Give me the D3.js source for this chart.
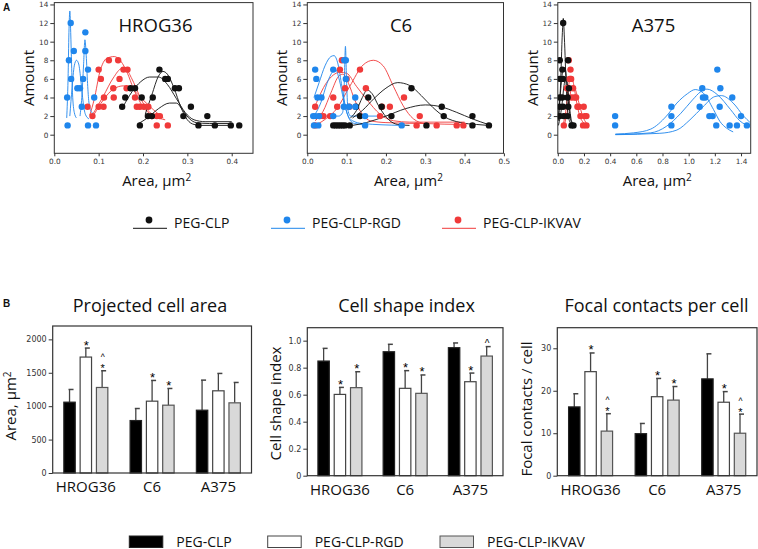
<!DOCTYPE html>
<html><head><meta charset="utf-8">
<script src="https://cdn.jsdelivr.net/npm/d3@7"></script>
<style>
body{margin:0;background:#fff;}
text{font-family:"Open Sans",sans-serif;fill:#111;}
.tick text{font-family:"DejaVu Sans",sans-serif;fill:#333;}
</style></head>
<body><svg id="c" width="758" height="549"></svg>
<script>
// ---------- DATA: panel A (size distributions) ----------
const hrogBlack = [[0.153,3],[0.160,4],[0.172,5],[0.182,5],[0.193,1],[0.197,4],[0.211,2],[0.220,2],[0.222,4],[0.237,7],[0.250,6],[0.256,6],[0.272,5],[0.281,5],[0.291,2],[0.308,3],[0.325,1],[0.345,2],[0.362,1],[0.398,1],[0.417,1]];
const hrogBlue = [[0.030,1],[0.029,4],[0.033,8],[0.037,12],[0.038,6],[0.044,9],[0.052,5],[0.058,5],[0.065,6],[0.062,3],[0.070,11],[0.070,9],[0.076,7],[0.076,1],[0.090,4],[0.094,1]];
const hrogRed = [[0.075,3],[0.086,2],[0.100,7],[0.105,6],[0.100,3],[0.111,3],[0.112,4],[0.123,8],[0.133,5],[0.134,4],[0.144,8],[0.147,6],[0.156,7],[0.165,7],[0.163,5],[0.182,4],[0.186,3],[0.193,3],[0.202,3],[0.212,3],[0.220,2],[0.231,2],[0.231,1],[0.238,2],[0.256,1]];
const hrogBlackFits = [
  [[0.205,2.2],[0.22,4.3],[0.235,6.3],[0.245,6.8],[0.255,6.5],[0.27,5],[0.285,3],[0.30,1.6],[0.315,1.1],[0.33,1.0],[0.40,1.0]],
  [[0.155,3.0],[0.175,4.6],[0.195,5.7],[0.215,6.2],[0.235,6.2],[0.255,5.4],[0.275,3.9],[0.295,2.4],[0.315,1.6],[0.34,1.4],[0.40,1.4]],
  [[0.19,1.2],[0.21,1.8],[0.235,2.8],[0.26,3.4],[0.275,3.4],[0.29,2.6],[0.305,1.7],[0.32,1.3],[0.35,1.2],[0.40,1.2]]
];
const hrogBlueFits = [
  [[0.028,1.8],[0.031,6],[0.033,11],[0.035,13.3],[0.037,11],[0.039,7.5],[0.041,4.5],[0.045,2.4],[0.050,1.8]],
  [[0.035,2],[0.040,5],[0.045,7.4],[0.050,8.0],[0.055,7.6],[0.060,5.8],[0.065,3.5],[0.070,2.2],[0.078,1.7]],
  [[0.058,2],[0.062,4],[0.066,7.5],[0.069,10.2],[0.072,8.5],[0.075,5.5],[0.078,3.5],[0.083,2.5],[0.090,2.2]]
];
const hrogRedFits = [
  [[0.080,2.1],[0.09,3.8],[0.103,6.8],[0.118,8.2],[0.135,8.4],[0.15,7.9],[0.165,6.6],[0.178,5.0],[0.19,3.8],[0.205,2.7],[0.225,2.0],[0.25,1.6]],
  [[0.088,2.3],[0.11,4.1],[0.133,6.1],[0.152,7.1],[0.162,7.0],[0.175,6.0],[0.19,4.4],[0.205,3.0],[0.22,2.2],[0.24,1.8]],
  [[0.09,2.2],[0.11,3.7],[0.133,4.9],[0.156,5.25],[0.178,4.8],[0.20,3.75],[0.223,2.7],[0.246,1.8]]
];

const c6Black = [[0.066,1],[0.072,1],[0.078,1],[0.084,1],[0.090,1],[0.096,1],[0.108,1],[0.124,3],[0.134,2],[0.155,4],[0.189,3],[0.214,2],[0.265,5],[0.303,1],[0.342,3],[0.347,2],[0.420,2],[0.420,1],[0.462,1]];
const c6Blue = [[0.015,2],[0.017,1],[0.020,7],[0.023,6],[0.021,2],[0.026,4],[0.030,2],[0.036,4],[0.028,1],[0.066,7],[0.066,2],[0.094,8],[0.098,6],[0.093,3],[0.106,3],[0.122,4],[0.122,3],[0.147,2],[0.147,1],[0.240,1],[0.098,8]];
const c6Red = [[0.020,3],[0.032,2],[0.041,2],[0.058,2],[0.066,4],[0.076,3],[0.083,7],[0.088,8],[0.096,5],[0.100,6],[0.107,3],[0.134,7],[0.149,5],[0.185,2],[0.190,3],[0.210,3],[0.246,4],[0.286,2],[0.278,1],[0.329,1],[0.380,1],[0.397,1],[0.020,1]];
const c6BlackFits = [
  [[0.11,1.8],[0.125,2.6],[0.14,4.0],[0.152,4.8],[0.165,4.4],[0.18,3.2],[0.195,2.2],[0.21,1.5],[0.23,1.1],[0.26,1.0]],
  [[0.115,1.8],[0.14,2.6],[0.17,3.9],[0.20,5.0],[0.23,5.6],[0.26,5.3],[0.29,4.2],[0.32,2.9],[0.35,1.9],[0.39,1.3],[0.43,1.1],[0.46,1.0]],
  [[0.115,1.0],[0.15,1.3],[0.20,2.0],[0.25,2.8],[0.30,3.2],[0.34,3.0],[0.38,2.4],[0.42,1.7],[0.46,1.1]]
];
const c6BlueFits = [
  [[0.017,4.0],[0.03,5.6],[0.045,7.4],[0.06,8.4],[0.068,8.5],[0.078,7.6],[0.088,5.2],[0.098,2.8],[0.108,1.6],[0.12,1.2],[0.14,1.1]],
  [[0.017,2.0],[0.035,3.5],[0.05,5.5],[0.065,6.8],[0.072,7.0],[0.082,5.8],[0.092,3.8],[0.102,2.2],[0.115,1.5],[0.14,1.2],[0.24,1.0]],
  [[0.02,2.0],[0.08,2.0],[0.09,2.4],[0.094,5.5],[0.097,9.5],[0.100,5.5],[0.104,2.5],[0.11,2.0],[0.19,2.0]]
];
const c6RedFits = [
  [[0.02,1.0],[0.05,1.8],[0.075,2.8],[0.108,5.2],[0.142,7.5],[0.168,8.0],[0.193,7.4],[0.219,5.2],[0.244,3.1],[0.27,1.7],[0.30,1.2],[0.40,1.1]],
  [[0.02,3.1],[0.049,5.6],[0.083,6.7],[0.10,6.6],[0.125,5.2],[0.151,3.8],[0.185,2.2],[0.219,1.5],[0.26,1.35],[0.40,1.35]],
  [[0.02,1.5],[0.04,2.5],[0.06,4.5],[0.08,6.3],[0.09,6.5],[0.105,5.5],[0.12,3.8],[0.14,2.2],[0.16,1.5],[0.2,1.3],[0.30,1.2]]
];

const a375Black = [[0.015,8],[0.015,6],[0.015,4],[0.015,3],[0.015,2],[0.041,12],[0.035,7],[0.040,6],[0.035,4],[0.040,3],[0.045,2],[0.078,8],[0.085,5],[0.075,4],[0.080,3],[0.075,2],[0.105,1],[0.120,1]];
const a375Red = [[0.084,8],[0.097,7],[0.102,6],[0.117,5],[0.127,4],[0.160,3],[0.198,3],[0.219,2],[0.219,1],[0.193,1],[0.173,2],[0.046,1],[0.060,2],[0.090,6],[0.105,4],[0.140,4],[0.150,3],[0.205,2],[0.070,5]];
const a375Blue = [[0.438,2],[0.438,1],[0.868,3],[0.868,2],[0.868,1],[1.084,3],[1.104,5],[1.109,4],[1.127,4],[1.158,2],[1.183,2],[1.211,1],[1.219,7],[1.242,5],[1.237,3],[1.313,1],[1.333,4],[1.369,1],[1.400,2],[1.445,1]];
const a375BlackFits = [
  [[0.005,1.5],[0.02,5],[0.035,11],[0.042,12.5],[0.05,10.5],[0.065,5],[0.08,2],[0.10,1.2],[0.12,1]],
  [[0.005,2],[0.02,4.5],[0.04,7],[0.055,7.2],[0.07,5.5],[0.085,3],[0.10,1.5],[0.12,1.1]],
  [[0.005,1],[0.03,3],[0.05,5.5],[0.065,6],[0.08,4.5],[0.095,2.3],[0.11,1.3],[0.12,1.2]]
];
const a375RedFits = [
  [[0.04,1.0],[0.06,2.5],[0.08,5.0],[0.10,6.3],[0.12,5.5],[0.14,3.8],[0.16,2.4],[0.19,1.4],[0.22,1.1]],
  [[0.05,1.0],[0.08,3],[0.11,5.2],[0.13,5.0],[0.16,3.5],[0.19,2.0],[0.22,1.2]]
];
const a375BlueFits = [
  [[0.44,0.07],[0.58,0.2],[0.71,0.6],[0.83,2.0],[0.91,3.4],[0.99,4.4],[1.05,4.85],[1.11,4.5],[1.19,2.7],[1.24,1.4],[1.29,0.7],[1.34,0.3]],
  [[0.44,0.02],[0.71,0.2],[0.83,0.9],[0.94,2.3],[1.03,3.75],[1.09,4.6],[1.14,4.9],[1.22,4.3],[1.32,2.7],[1.39,1.5],[1.47,0.9]],
  [[0.44,0.0],[0.78,0.15],[0.91,0.5],[1.01,1.6],[1.11,3.0],[1.20,4.1],[1.25,4.2],[1.34,3.4],[1.42,2.0],[1.47,1.3]]
];
const amountTicks = [0,2,4,6,8,10,12,14];
const hrogAreaTicks = [0,0.1,0.2,0.3,0.4];
const c6AreaTicks = [0,0.1,0.2,0.3,0.4,0.5];
const a375AreaTicks = [0,0.2,0.4,0.6,0.8,1.0,1.2,1.4];
const seriesNames = ["PEG-CLP","PEG-CLP-RGD","PEG-CLP-IKVAV"];

// ---------- DATA: panel B (bars) ----------
const cellLines = ["HROG36","C6","A375"];
const areaClp = [1060,785,940], areaRgd = [1735,1075,1230], areaIkvav = [1280,1015,1050];
const areaClpErr = [190,180,450], areaRgdErr = [135,310,260], areaIkvavErr = [250,250,305];
const areaRgdMark = ["*","*",""], areaIkvavMark = ["^*","*",""];
const shapeClp = [0.849,0.918,0.948], shapeRgd = [0.602,0.647,0.696], shapeIkvav = [0.652,0.610,0.886];
const shapeClpErr = [0.094,0.055,0.035], shapeRgdErr = [0.052,0.131,0.064], shapeIkvavErr = [0.118,0.136,0.070];
const shapeRgdMark = ["*","*","*"], shapeIkvavMark = ["*","*","^"];
const focalClp = [16.2,9.9,22.8], focalRgd = [24.5,18.6,17.3], focalIkvav = [10.5,17.8,10.0];
const focalClpErr = [3.1,2.4,5.9], focalRgdErr = [4.4,4.3,2.5], focalIkvavErr = [4.1,3.2,4.5];
const focalRgdMark = ["*","*","*"], focalIkvavMark = ["^*","*","^*"];
const areaTicks = [0,500,1000,1500,2000];
const shapeTicks = [0,0.2,0.4,0.6,0.8,1.0];
const focalTicks = [0,10,20,30];

// ---------- DRAW ----------
const svg = d3.select("#c");
const COL = {black:"#111111", blue:"#1f86ec", red:"#f03a3a"};
const FRAME = "#333";

function topPanel(cfg){
  const x = d3.scaleLinear().domain(cfg.xd).range([cfg.x0, cfg.x1]);
  const y = d3.scaleLinear().domain([-2,14.2]).range([153.3, 2.6]);
  const g = svg.append("g");
  g.append("rect").attr("x",cfg.x0).attr("y",2.6).attr("width",cfg.x1-cfg.x0).attr("height",150.7)
    .attr("fill","none").attr("stroke",FRAME).attr("stroke-width",1);
  const ay = g.append("g").attr("transform",`translate(${cfg.x0},0)`)
    .call(d3.axisLeft(y).tickValues(amountTicks).tickSize(4).tickPadding(2));
  const ax = g.append("g").attr("transform",`translate(0,153.3)`)
    .call(d3.axisBottom(x).tickValues(cfg.ticks).tickSize(3).tickPadding(3).tickFormat(d3.format(".1f")));
  [ax,ay].forEach(a=>{a.select(".domain").remove(); a.selectAll("line").attr("stroke",FRAME);
    a.selectAll("text").style("font-size","7.3px");});
  const line = d3.line().x(d=>x(d[0])).y(d=>y(d[1])).curve(d3.curveMonotoneX);
  const clipId = "clip"+cfg.title;
  g.append("clipPath").attr("id",clipId).append("rect").attr("x",cfg.x0).attr("y",2.6)
    .attr("width",cfg.x1-cfg.x0).attr("height",150.7);
  const pg = g.append("g").attr("clip-path",`url(#${clipId})`);
  [["red",cfg.redFits],["blue",cfg.blueFits],["black",cfg.blackFits]].forEach(([c,fits])=>{
    pg.selectAll(null).data(fits).enter().append("path").attr("d",line)
      .attr("fill","none").attr("stroke",COL[c]).attr("stroke-width",0.9);
  });
  cfg.order.forEach(([c,pts])=>{
    pg.selectAll(null).data(pts).enter().append("circle")
      .attr("cx",d=>x(d[0])).attr("cy",d=>y(d[1])).attr("r",3.2).attr("fill",COL[c]);
  });
  g.append("text").attr("x",cfg.tx).attr("y",31.5).attr("text-anchor","middle")
    .style("font-size","18.5px").text(cfg.title);
  const xl = g.append("text").attr("x",(cfg.x0+cfg.x1)/2+3).attr("y",186).attr("text-anchor","middle")
    .style("font-size","15px");
  xl.append("tspan").text("Area, µm");
  xl.append("tspan").attr("dy",-5).style("font-size","10px").text("2");
  g.append("text").attr("transform",`translate(${cfg.x0-20},78) rotate(-90)`).attr("text-anchor","middle")
    .style("font-size","15px").text("Amount");
}

topPanel({title:"HROG36", tx:155.5, x0:54.3, x1:253, xd:[0,0.448], ticks:hrogAreaTicks,
  blackFits:hrogBlackFits, blueFits:hrogBlueFits, redFits:hrogRedFits,
  order:[["red",hrogRed],["blue",hrogBlue],["black",hrogBlack]]});
topPanel({title:"C6", tx:401, x0:307.3, x1:503.5, xd:[0,0.499], ticks:c6AreaTicks,
  blackFits:c6BlackFits, blueFits:c6BlueFits, redFits:c6RedFits,
  order:[["red",c6Red],["black",c6Black],["blue",c6Blue]]});
topPanel({title:"A375", tx:653.5, x0:557.8, x1:750.7, xd:[0,1.474], ticks:a375AreaTicks,
  blackFits:a375BlackFits, blueFits:a375BlueFits, redFits:a375RedFits,
  order:[["red",a375Red],["blue",a375Blue],["black",a375Black]]});

svg.append("text").attr("x",3).attr("y",11).style("font-size","10px").style("font-weight","bold")
  .style("font-family","Liberation Sans, Arial").text("A");

// top legend
const legX = [133,271,442];
seriesNames.forEach((s,i)=>{
  const c = [COL.black,COL.blue,COL.red][i];
  svg.append("line").attr("x1",legX[i]).attr("x2",legX[i]+34).attr("y1",228.3).attr("y2",228.3)
    .attr("stroke",c).attr("stroke-width",1);
  svg.append("circle").attr("cx",legX[i]+16).attr("cy",220).attr("r",3.4).attr("fill",c);
  svg.append("text").attr("x",legX[i]+41).attr("y",228).style("font-size","14px").text(s);
});

// ---------- bar panels ----------
const barFill = ["#000000","#ffffff","#d9d9d9"];
const barStroke = ["#222","#444","#555"];
function markText(g, x, y, size, s){
  g.append("text").attr("x",x).attr("y",y).attr("text-anchor","middle")
    .style("font-family","Liberation Sans, Arial").style("fill","#000")
    .style("font-size",size+"px").text(s);
}
function barPanel(cfg){
  const x = d3.scaleBand().domain(cellLines).range([cfg.x0,cfg.x1]).padding(0);
  const xs = d3.scaleBand().domain(seriesNames).range([-22,22]).paddingInner(0.3).paddingOuter(0);
  const y = d3.scaleLinear().domain(cfg.yd).range([cfg.yb, cfg.yt]);
  const g = svg.append("g");
  const ay = g.append("g").attr("transform",`translate(${cfg.x0},0)`)
    .call(d3.axisLeft(y).tickValues(cfg.ticks).tickSize(4).tickPadding(2).tickFormat(cfg.fmt));
  ay.select(".domain").remove(); ay.selectAll("line").attr("stroke",FRAME);
  ay.selectAll("text").style("font-size","8px");
  const rows = [];
  cellLines.forEach((cl,i)=>{
    seriesNames.forEach((s,j)=>{
      rows.push({cl, s, j, v:cfg.means[j][i], e:cfg.errs[j][i], m:cfg.marks[j][i]});
    });
  });
  const cx = d=> x(d.cl)+x.bandwidth()/2 + xs(d.s);
  rows.forEach(d=>{
    const xc = cx(d)+xs.bandwidth()/2;
    const yt = y(d.v+d.e);
    g.append("line").attr("x1",xc).attr("x2",xc).attr("y1",y(d.v)).attr("y2",yt)
      .attr("stroke","#444").attr("stroke-width",1.3);
    g.append("line").attr("x1",xc-1).attr("x2",xc+4).attr("y1",yt).attr("y2",yt)
      .attr("stroke","#444").attr("stroke-width",1.5);
    if(d.m === "^*"){
      markText(g, xc+0.5, yt+1.5, 11, "*");
      markText(g, xc+0.5, yt-10.5, 8.5, "^");
    } else if(d.m === "*"){
      markText(g, xc+0.5, yt+1.5, 13, "*");
    } else if(d.m === "^"){
      markText(g, xc+0.5, yt+0.5, 10, "^");
    }
  });
  g.selectAll(null).data(rows).enter().append("rect")
    .attr("x",d=>cx(d)).attr("width",xs.bandwidth())
    .attr("y",d=>y(d.v)).attr("height",d=>y(0)-y(d.v))
    .attr("fill",d=>barFill[d.j]).attr("stroke",d=>barStroke[d.j]).attr("stroke-width",1.2);
  g.append("rect").attr("x",cfg.x0).attr("y",cfg.yt).attr("width",cfg.x1-cfg.x0).attr("height",cfg.yb-cfg.yt)
    .attr("fill","none").attr("stroke",FRAME).attr("stroke-width",1.2);
  g.selectAll(null).data(cellLines).enter().append("text")
    .attr("x",d=>x(d)+x.bandwidth()/2).attr("y",cfg.yb+19).attr("text-anchor","middle")
    .style("font-size","15px").text(d=>d);
  g.append("text").attr("x",cfg.tx).attr("y",311.5).attr("text-anchor","middle")
    .style("font-size","18px").text(cfg.title);
  const yl = g.append("text").attr("transform",`translate(${cfg.ylx},${cfg.yly}) rotate(-90)`)
    .attr("text-anchor","middle").style("font-size","15px");
  if(cfg.sup){ yl.append("tspan").text(cfg.ylabel); yl.append("tspan").attr("dy",-5).style("font-size","10px").text(cfg.sup); }
  else yl.text(cfg.ylabel);
}

barPanel({title:"Projected cell area", tx:150, x0:52.7, x1:251.5, yt:326, yb:473, yd:[0,2200],
  ticks:areaTicks, fmt:d3.format("d"), ylabel:"Area, µm", sup:"2", ylx:16, yly:406,
  means:[areaClp,areaRgd,areaIkvav], errs:[areaClpErr,areaRgdErr,areaIkvavErr],
  marks:[["","",""],areaRgdMark,areaIkvavMark]});
barPanel({title:"Cell shape index", tx:406.5, x0:307.3, x1:503, yt:327.7, yb:475.7, yd:[0,1.096],
  ticks:shapeTicks, fmt:d=>d===0?"0":d3.format(".1f")(d), ylabel:"Cell shape index", ylx:281, yly:403.5,
  means:[shapeClp,shapeRgd,shapeIkvav], errs:[shapeClpErr,shapeRgdErr,shapeIkvavErr],
  marks:[["","",""],shapeRgdMark,shapeIkvavMark]});
barPanel({title:"Focal contacts per cell", tx:656.5, x0:557.3, x1:757, yt:327.7, yb:475.7, yd:[0,34.85],
  ticks:focalTicks, fmt:d3.format("d"), ylabel:"Focal contacts / cell", ylx:531.5, yly:409,
  means:[focalClp,focalRgd,focalIkvav], errs:[focalClpErr,focalRgdErr,focalIkvavErr],
  marks:[["","",""],focalRgdMark,focalIkvavMark]});

svg.append("text").attr("x",3).attr("y",307).style("font-size","10px").style("font-weight","bold")
  .style("font-family","Liberation Sans, Arial").text("B");

// bottom legend
const lx2 = [129.3,267.7,440];
seriesNames.forEach((s,i)=>{
  svg.append("rect").attr("x",lx2[i]).attr("y",536).attr("width",33.5).attr("height",11.5)
    .attr("fill",barFill[i]).attr("stroke",barStroke[i]).attr("stroke-width",1);
  svg.append("text").attr("x",lx2[i]+47).attr("y",546.5).style("font-size","14px").text(s);
});
</script></body></html>
